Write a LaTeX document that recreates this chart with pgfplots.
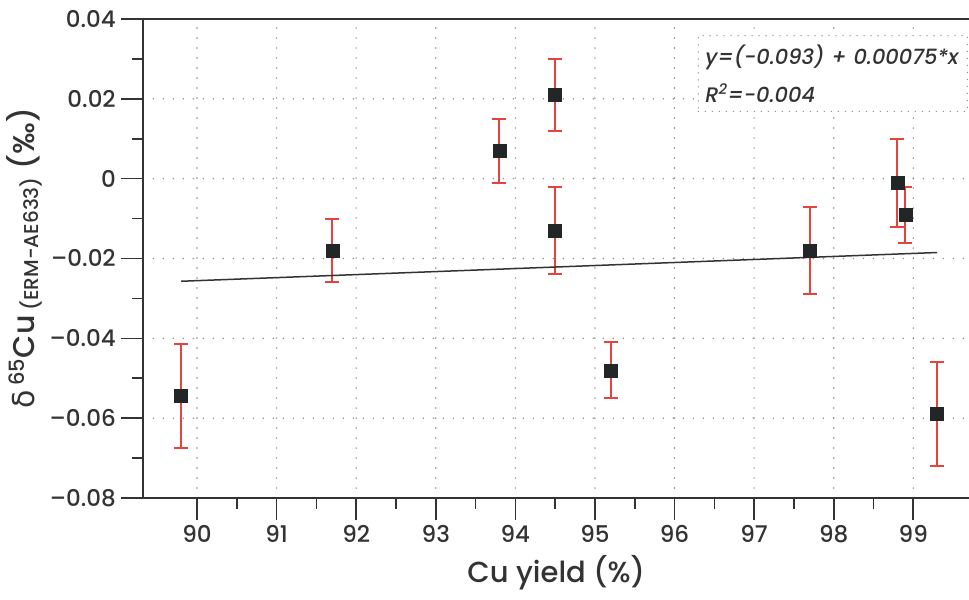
\documentclass[border=0pt]{standalone}
\usepackage{fontspec}
\setmainfont{Poppins}[UprightFont={* Medium}, ItalicFont={* Medium Italic}]
\newfontfamily\greekfont{DejaVu Sans}
\usepackage{pgfplots}
\pgfplotsset{compat=1.18}
\definecolor{ebar}{HTML}{E5443C}
\definecolor{axgray}{HTML}{333333}
\definecolor{mk}{HTML}{222626}
\definecolor{gridc}{HTML}{8A8A8A}

\pgfplotstableread{
x y e
89.8 -0.0545 0.013
91.7 -0.018 0.008
93.8 0.007 0.008
94.5 0.021 0.009
94.5 -0.013 0.011
95.2 -0.048 0.007
97.7 -0.018 0.011
98.8 -0.001 0.011
98.9 -0.009 0.007
99.3 -0.059 0.013
}\datatable

\begin{document}
\begin{tikzpicture}
\begin{axis}[
  width=825.7pt, height=479pt, scale only axis,
  xmin=89.325, xmax=99.70, ymin=-0.08, ymax=0.04,
  axis x line*=box, axis y line*=left,
  axis line style={-, draw=axgray, line width=1.8pt},
  xtick={90,91,...,99},
  minor x tick num=1,
  scaled y ticks=false,
  ytick={-0.08,-0.06,-0.04,-0.02,0,0.02,0.04},
  yticklabels={\textendash0.08,\textendash0.06,\textendash0.04,\textendash0.02,0,0.02,0.04},
  minor y tick num=1,
  xtick pos=left, ytick pos=left,
  tick align=outside,
  major tick length=22pt, minor tick length=11pt,
  tick style={draw=axgray, line width=1.6pt},
  /pgf/number format/assume math mode=true,
  tick label style={font=\fontsize{23}{23}\selectfont, text=axgray},
  xticklabel style={yshift=-2pt},
  yticklabel style={xshift=-2pt},
  grid=major,
  major grid style={draw=gridc, line width=1.6pt, line cap=round, dash pattern=on 0pt off 10pt},
  xlabel={Cu yield (\%)},
  xlabel style={font=\fontsize{29}{29}\selectfont, text=axgray, yshift=-5pt},
  ylabel={{\greekfont δ}\,\textsuperscript{65}Cu\,{\fontsize{20}{20}\selectfont\raisebox{-0.45ex}{(ERM-AE633)}}\ (‰)},
  ylabel style={font=\fontsize{30}{30}\selectfont, text=axgray, yshift=0pt},
  clip=false,
]
\addplot[only marks, mark=square*, mark size=6.5pt,
  mark options={fill=mk, draw=mk, line width=0.5pt},
  error bars/.cd, y dir=both, y explicit,
  error bar style={ebar, line width=2pt},
  error mark options={rotate=90, ebar, mark size=7pt, line width=2pt}]
  table[x=x, y=y, y error=e]{\datatable};
\addplot[draw=axgray, line width=1.5pt] coordinates {(89.8,-0.0257) (99.3,-0.0185)};
\node[draw=gridc, line width=1.4pt, line cap=round, dash pattern=on 0pt off 7pt,
  fill=white, anchor=north west, inner xsep=7pt, inner ysep=9pt, align=left,
  text width=255pt, font=\itshape\fontsize{21}{38}\selectfont, text=axgray]
  at (axis cs:96.29,0.036) {y=(-0.093) + 0.00075*x\\R\textsuperscript{2}=-0.004};
\coordinate (bl) at (rel axis cs:0,0);
\coordinate (tr) at (rel axis cs:1,1);
\end{axis}
\pgfresetboundingbox
\path[use as bounding box] ([xshift=-143.3pt,yshift=-101pt]bl) rectangle ([yshift=19pt]tr);
\end{tikzpicture}
\end{document}
